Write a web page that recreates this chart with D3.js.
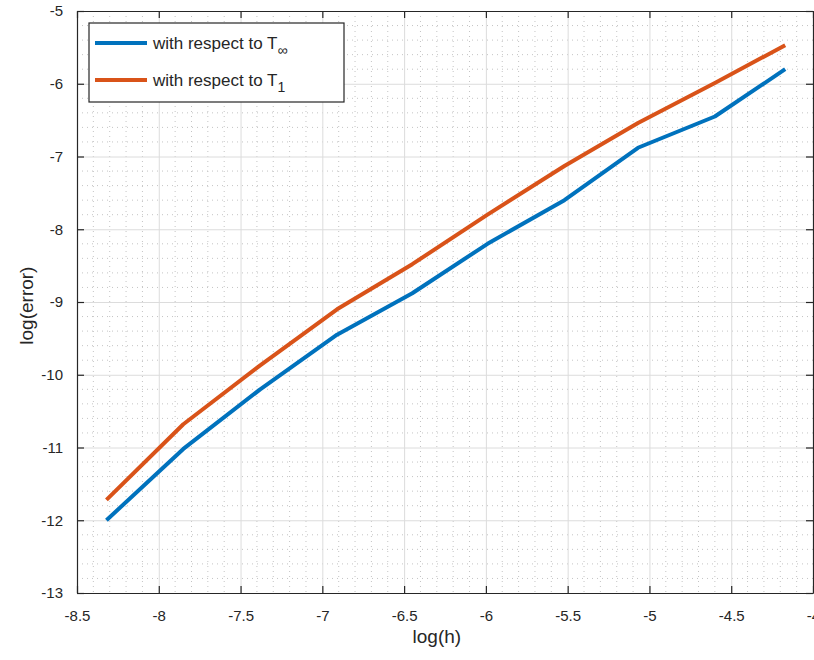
<!DOCTYPE html>
<html>
<head>
<meta charset="utf-8">
<script src="https://cdn.jsdelivr.net/npm/d3@7"></script>
<style>
  body { margin: 0; background: #fff; }
  svg { font-family: "Liberation Sans", Arial, sans-serif; }
</style>
</head>
<body>
<div id="chart"></div>
<script>
// data
var logH = [-8.32, -7.85, -7.38, -6.91, -6.45, -5.99, -5.52, -5.07, -4.60, -4.17];
var errInf = [-12.0, -11.02, -10.2, -9.45, -8.88, -8.2, -7.6, -6.88, -6.45, -5.8];
var errOne = [-11.72, -10.68, -9.87, -9.1, -8.48, -7.8, -7.13, -6.54, -5.99, -5.47];
var xTicks = [-8.5, -8, -7.5, -7, -6.5, -6, -5.5, -5, -4.5, -4];
var yTicks = [-13, -12, -11, -10, -9, -8, -7, -6, -5];

// set the dimensions and margins of the graph
var margin = { top: 11, right: 1, bottom: 67, left: 77 },
    width = 814 - margin.left - margin.right,
    height = 660 - margin.top - margin.bottom;

var svg = d3.select("#chart")
    .append("svg")
    .attr("width", 814)
    .attr("height", 660)
    .append("g")
    .attr("transform", "translate(" + margin.left + "," + margin.top + ")");

var x = d3.scaleLinear().domain([-8.5, -4]).range([0, width]);
var y = d3.scaleLinear().domain([-13, -5]).range([height, 0]);

// plain hyphen for negative numbers, like the original
var fmt = function (d) { return String(d); };

// minor grid (dotted)
var xMinor = d3.range(-8.5, -4.0001, 0.1).filter(function (v) { return Math.abs(v * 2 - Math.round(v * 2)) > 1e-6; });
var yMinor = d3.range(-13, -5.0001, 0.2).filter(function (v) { return Math.abs(v - Math.round(v)) > 1e-6; });

svg.selectAll(".xminor").data(xMinor).enter().append("line")
    .attr("x1", function (d) { return x(d); }).attr("x2", function (d) { return x(d); })
    .attr("y1", 0).attr("y2", height)
    .attr("stroke", "#c4c4c4").attr("stroke-width", 1)
    .attr("stroke-dasharray", "1,4");
svg.selectAll(".yminor").data(yMinor).enter().append("line")
    .attr("y1", function (d) { return y(d); }).attr("y2", function (d) { return y(d); })
    .attr("x1", 0).attr("x2", width)
    .attr("stroke", "#c4c4c4").attr("stroke-width", 1)
    .attr("stroke-dasharray", "1,4");

// major grid
svg.append("g")
    .call(d3.axisBottom(x).tickValues(xTicks).tickSize(height).tickFormat(""))
    .call(function (g) {
        g.select(".domain").remove();
        g.selectAll("line").attr("stroke", "#dcdcdc");
    });
svg.append("g")
    .call(d3.axisLeft(y).tickValues(yTicks).tickSize(-width).tickFormat(""))
    .call(function (g) {
        g.select(".domain").remove();
        g.selectAll("line").attr("stroke", "#dcdcdc");
    });

// lines
var series = [
    { name: "inf", vals: errInf, color: "#0072BD" },
    { name: "one", vals: errOne, color: "#D95319" }
];
series.forEach(function (s) {
    svg.append("path")
        .datum(logH.map(function (h, i) { return [h, s.vals[i]]; }))
        .attr("fill", "none")
        .attr("stroke", s.color)
        .attr("stroke-width", 4)
        .attr("stroke-linejoin", "round")
        .attr("d", d3.line()
            .x(function (d) { return x(d[0]); })
            .y(function (d) { return y(d[1]); }));
});

// axes (ticks point inwards, MATLAB style box)
function styleAxis(g) {
    g.select(".domain").attr("stroke", "#262626").attr("stroke-width", 1.2);
    g.selectAll(".tick line").attr("stroke", "#262626").attr("stroke-width", 1.2);
    g.selectAll("text").attr("fill", "#262626").attr("font-size", "15px");
}
svg.append("g")
    .attr("transform", "translate(0," + height + ")")
    .call(d3.axisBottom(x).tickValues(xTicks).tickSizeInner(-7).tickSizeOuter(0).tickPadding(17)
        .tickFormat(fmt))
    .call(styleAxis);
svg.append("g")
    .call(d3.axisTop(x).tickValues(xTicks).tickSizeInner(-7).tickSizeOuter(0).tickFormat(""))
    .call(styleAxis);
svg.append("g")
    .call(d3.axisLeft(y).tickValues(yTicks).tickSizeInner(-7).tickSizeOuter(0).tickPadding(14)
        .tickFormat(fmt))
    .call(styleAxis);
svg.append("g")
    .attr("transform", "translate(" + width + ",0)")
    .call(d3.axisRight(y).tickValues(yTicks).tickSizeInner(-7).tickSizeOuter(0).tickFormat(""))
    .call(styleAxis);

// axis labels
svg.append("text")
    .attr("x", x(-6.3))
    .attr("y", height + 50)
    .attr("text-anchor", "middle")
    .attr("font-size", "19px")
    .attr("fill", "#262626")
    .text("log(h)");
svg.append("text")
    .attr("transform", "rotate(-90)")
    .attr("x", -y(-9.05))
    .attr("y", -44)
    .attr("text-anchor", "middle")
    .attr("font-size", "19px")
    .attr("fill", "#262626")
    .text("log(error)");

// legend
var legend = svg.append("g").attr("transform", "translate(12,12)");
legend.append("rect")
    .attr("width", 255).attr("height", 79)
    .attr("fill", "#fff").attr("stroke", "#262626").attr("stroke-width", 1.2);
var legendItems = [
    { color: "#0072BD", sub: "\u221E", dy: 20 },
    { color: "#D95319", sub: "1", dy: 57 }
];
legendItems.forEach(function (d) {
    legend.append("line")
        .attr("x1", 6).attr("x2", 58)
        .attr("y1", d.dy).attr("y2", d.dy)
        .attr("stroke", d.color).attr("stroke-width", 4);
    var t = legend.append("text")
        .attr("x", 64).attr("y", d.dy + 6)
        .attr("font-size", "17px")
        .attr("fill", "#262626");
    t.append("tspan").text("with respect to T");
    t.append("tspan").attr("dy", 6).attr("font-size", "14px").text(d.sub);
});
</script>
</body>
</html>
